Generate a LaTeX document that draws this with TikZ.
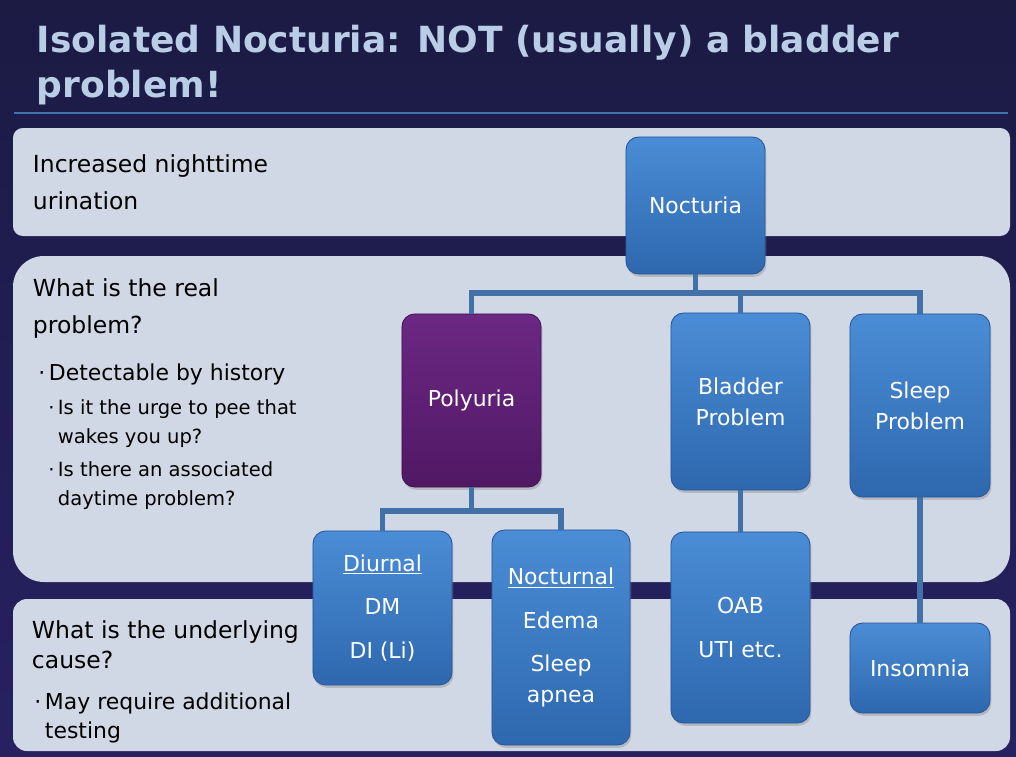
\documentclass[tikz,border=0pt]{standalone}
\usepackage{fontspec}
\setmainfont{DejaVu Sans}
\usetikzlibrary{shadows}
\definecolor{bgtop}{RGB}{27,27,68}
\definecolor{bgbot}{RGB}{39,33,98}
\definecolor{titleblue}{RGB}{186,205,230}
\definecolor{rulecol}{RGB}{66,112,180}
\definecolor{panelcol}{RGB}{208,215,229}
\definecolor{boxtop}{RGB}{74,141,214}
\definecolor{boxbot}{RGB}{46,104,174}
\definecolor{boxedge}{RGB}{40,86,150}
\definecolor{purtop}{RGB}{108,40,132}
\definecolor{purbot}{RGB}{80,24,100}
\definecolor{linkcol}{RGB}{66,113,168}

\begin{document}
\begin{tikzpicture}[x=0.025cm, y=-0.025cm,
  panel/.style={fill=panelcol},
  box/.style={rounded corners=9pt, top color=boxtop, bottom color=boxbot, draw=boxedge, line width=0.6pt,
    text=white, align=center, inner sep=2pt, font=\fontsize{15.6}{22}\selectfont,
    drop shadow={opacity=0.35, shadow xshift=1pt, shadow yshift=-2pt}},
  pbox/.style={box, top color=purtop, bottom color=purbot, draw=purbot!80!black},
  link/.style={linkcol, line width=4pt},
  head/.style={anchor=base west, align=left, font=\fontsize{16.7}{26.3}\selectfont},
  bul/.style={anchor=base west, align=left, font=\fontsize{15.6}{20.6}\selectfont},
  subbul/.style={anchor=base west, align=left, font=\fontsize{13.9}{20.6}\selectfont}]
% background
\fill[top color=bgtop, bottom color=bgbot] (0,0) rectangle (1016,756);
\useasboundingbox (0,0) rectangle (1016,756);
% title (anchored at last baseline)
\node[anchor=base west, align=left, text=titleblue, font=\fontsize{25.6}{31.3}\selectfont\bfseries] (title) at (32,97)
  {Isolated Nocturia: NOT (usually) a bladder\\problem!};
\draw[rulecol, line width=1.6pt] (14,113) -- (1008,113);
% panels
\fill[panel, rounded corners=7pt] (13,128) rectangle (1010,236);
\fill[panel, rounded corners=22pt] (13,256) rectangle (1010,582);
\fill[panel, rounded corners=10pt] (13,599) rectangle (1010,751);
% panel texts
\node[head] (q1) at (28,209) {Increased nighttime\\urination};
\node[head] (q2) at (28,333) {What is the real\\problem?};
\node[bul] (d1) at (44,380) {\llap{·\,}Detectable by history};
\node[subbul] (d2) at (53,443) {\llap{·\,}Is it the urge to pee that\\wakes you up?};
\node[subbul] (d3) at (53,505) {\llap{·\,}Is there an associated\\daytime problem?};
\node[head] (q3) at (27,668) {What is the underlying\\[-5pt]cause?};
\node[bul] (t1) at (40,738) {\llap{·\,}May require additional\\testing};
% boxes
\node[box, minimum width=3.475cm, minimum height=3.425cm] (noct) at (695.5,205.5) {Nocturia};
\node[pbox, minimum width=3.475cm, minimum height=4.325cm] (poly) at (471.5,400.5) {Polyuria};
\node[box, minimum width=3.475cm, minimum height=4.425cm] (bladder) at (740.5,401.5) {Bladder\\Problem};
\node[box, minimum width=3.5cm, minimum height=4.575cm] (sleep) at (920,405.5) {Sleep\\Problem};
\node[box, minimum width=3.475cm, minimum height=3.85cm] (diurnal) at (382.5,608)
  {\underline{Diurnal}\\[9pt]DM\\[9pt]DI (Li)};
\node[box, minimum width=3.45cm, minimum height=5.375cm] (noctl) at (561,637.5)
  {\underline{Nocturnal}\\[9pt]Edema\\[9pt]Sleep\\apnea};
\node[box, minimum width=3.475cm, minimum height=4.775cm] (oab) at (740.5,627.5) {OAB\\[9pt]UTI etc.};
\node[box, minimum width=3.5cm, minimum height=2.25cm] (insom) at (920,668) {Insomnia};
% links
\coordinate (bus1) at (695.5,293);
\coordinate (bus2) at (471.5,511);
\draw[link] (noct.south) -- (bus1);
\draw[link] (poly.north) |- (bus1) -| (sleep.north);
\draw[link] (bladder.north) -- (bladder.north |- bus1);
\draw[link] (poly.south) -- (bus2);
\draw[link] (diurnal.north) |- (bus2) -| (noctl.north);
\draw[link] (bladder.south) -- (oab.north);
\draw[link] (sleep.south) -- (insom.north);
\end{tikzpicture}
\end{document}
